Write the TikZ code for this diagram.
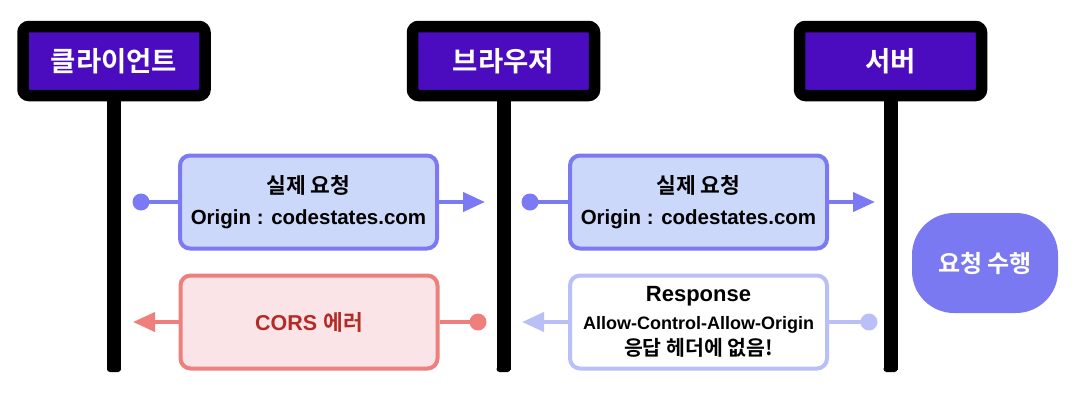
\documentclass[tikz,border=0pt]{standalone}
\usepackage{fontspec}
\setmainfont{Liberation Sans}
\newfontfamily\ko{Noto Sans CJK KR}[BoldFont={Noto Sans CJK KR Bold}]
\usetikzlibrary{arrows.meta}
\definecolor{hdr}{RGB}{74,12,190}
\definecolor{blueline}{RGB}{123,121,243}
\definecolor{bluefill}{RGB}{204,216,249}
\definecolor{paleline}{RGB}{186,191,247}
\definecolor{redline}{RGB}{238,127,124}
\definecolor{redfill}{RGB}{251,228,231}
\definecolor{redtext}{RGB}{180,42,36}
\definecolor{pill}{RGB}{123,121,242}
\tikzset{
  header/.style={draw=black, fill=hdr, line width=11.5pt, rounded corners=6pt,
    minimum width=182pt, minimum height=69pt, text=white,
    font=\ko\bfseries\fontsize{27.5}{30}\selectfont},
  lifeline/.style={line width=14pt, draw=black},
  msgbox/.style={line width=4pt, rounded corners=10pt, minimum width=257pt,
    minimum height=93pt, align=center, font=\bfseries},
  conn/.style={line width=4pt},
  tip/.style={-{Triangle[length=22pt,width=19pt]}},
}
\newcommand{\fs}[1]{\fontsize{#1}{#1}\selectfont}
\begin{document}
\begin{tikzpicture}[x=1pt,y=-1pt]
\useasboundingbox (0,0) rectangle (1078,394);
% headers
\node[header] (hC) at (114,61) {클라이언트};
\node[header] (hB) at (503.5,61) {브라우저};
\node[header] (hS) at (890.5,61) {서버};
\coordinate (eC) at (114,370);
\coordinate (eB) at (503.5,370);
\coordinate (eS) at (890.5,370);
\draw[lifeline] (hC.south) -- (eC);
\draw[lifeline] (hB.south) -- (eB);
\draw[lifeline] (hS.south) -- (eS);
\fill[black, rounded corners=3pt] (eC) ++(-7,-4) rectangle ++(14,6);
\fill[black, rounded corners=3pt] (eB) ++(-7,-4) rectangle ++(14,6);
\fill[black, rounded corners=3pt] (eS) ++(-7,-4) rectangle ++(14,6);
% message boxes
\node[msgbox, draw=blueline, fill=bluefill] (m1) at (308.5,202)
  {{\ko\fs{21.5}실제 요청}\\[13pt]{\fs{20.5}Origin : codestates.com}};
\node[msgbox, draw=blueline, fill=bluefill] (m2) at (698.5,202)
  {{\ko\fs{21.5}실제 요청}\\[13pt]{\fs{20.5}Origin : codestates.com}};
\node[msgbox, draw=redline, fill=redfill, text=redtext] (m3) at (309,322)
  {\fs{21.5}CORS {\ko 에러}};
\node[msgbox, draw=paleline, fill=white] (m4) at (698.5,322)
  {{\fs{22}Response}\\[10pt]{\fs{18}Allow-Control-Allow-Origin}\\[4pt]{\ko\fs{20.5}응답 헤더에 없음!}};
% connectors
\coordinate (d1) at (141,202);
\coordinate (a1) at (485,202);
\coordinate (d2) at (530,202);
\coordinate (a2) at (875,202);
\coordinate (d3) at (478,322);
\coordinate (a3) at (133,322);
\coordinate (d4) at (869,322);
\coordinate (a4) at (522,322);
\draw[conn, blueline] (d1) -- (m1.west);
\draw[conn, blueline, tip] (m1.east) -- (a1);
\fill[blueline] (d1) circle (8.5pt);
\draw[conn, blueline] (d2) -- (m2.west);
\draw[conn, blueline, tip] (m2.east) -- (a2);
\fill[blueline] (d2) circle (8.5pt);
\draw[conn, redline] (d3) -- (m3.east);
\draw[conn, redline, tip] (m3.west) -- (a3);
\fill[redline] (d3) circle (8.5pt);
\draw[conn, paleline] (d4) -- (m4.east);
\draw[conn, paleline, tip] (m4.west) -- (a4);
\fill[paleline] (d4) circle (8.5pt);
% server action
\node[fill=pill, rounded corners=42pt, minimum width=146pt, minimum height=100pt,
  text=white, font=\ko\bfseries\fs{24}] (act) at (985,263) {요청 수행};
\end{tikzpicture}
\end{document}
